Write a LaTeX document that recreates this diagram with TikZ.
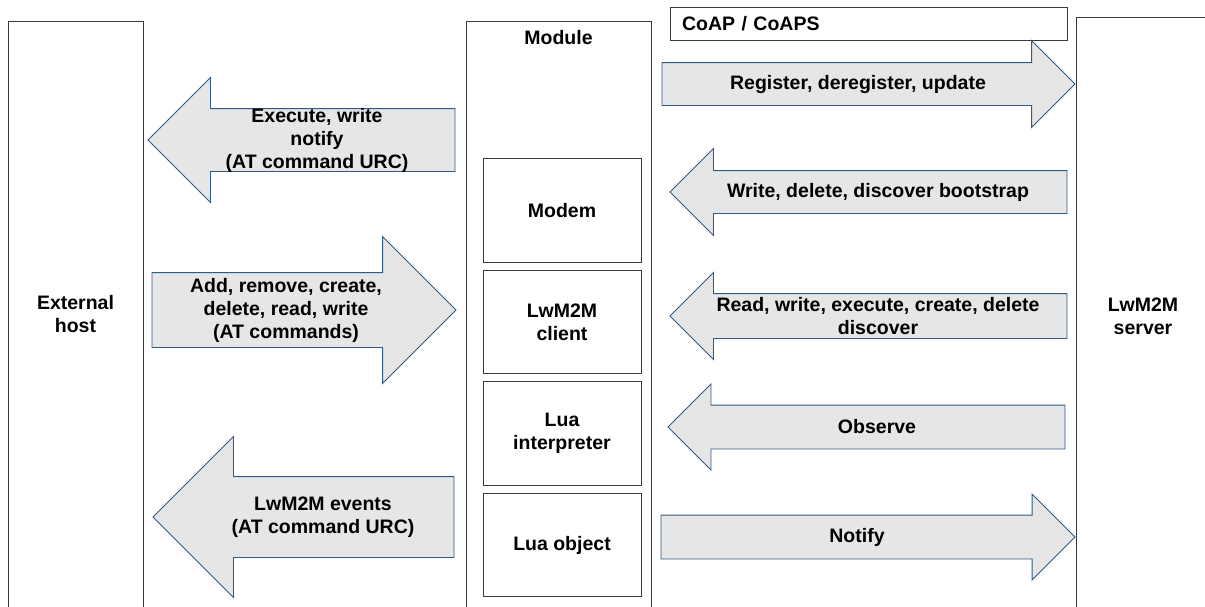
\documentclass[tikz,border=0pt]{standalone}
\usepackage{fontspec}
\setmainfont{Liberation Sans}
\usetikzlibrary{shapes.arrows}

\begin{document}
\begin{tikzpicture}[x=1pt,y=-1pt,
  every node/.style={font={\fontsize{19.5}{23}\selectfont\bfseries}},
  box/.style={rectangle,draw=boxline,line width=1pt,inner sep=0pt,outer sep=0pt,align=center},
  blockarrow/.style={single arrow,draw=arrowline,fill=arrowfill,line width=0.9pt,
    inner xsep=0pt,outer sep=0pt,single arrow tip angle=90},
  lbl/.style={align=center,inner sep=0pt}]
\definecolor{boxline}{HTML}{3A3A3A}
\definecolor{arrowline}{HTML}{2F5B8A}
\definecolor{arrowfill}{HTML}{E6E6E6}
\useasboundingbox (0,0) rectangle (1205,606);
\clip (0,0) rectangle (1205,606);
% the three columns
\node [box,minimum width=135pt,minimum height=586pt] (host) at (75.5,314) {External\\host};
\node [box,minimum width=185pt,minimum height=586pt] (module) at (558.5,314) {};
\node [lbl] (modlbl) at (558.5,38) {Module};
\node [box,minimum width=134pt,minimum height=598pt] (server) at (1143,316) {LwM2M\\server};
% blocks inside the module
\foreach \name/\y/\txt in {modem/210.5/Modem,client/322/{LwM2M\\client},interp/433.5/{Lua\\interpreter},luaobj/545/{Lua object}}
  {  \node [box,minimum width=158pt,minimum height=103.5pt] (\name) at (562,\y) {\txt};}
\node [box,minimum width=397pt,minimum height=33pt,text width=373pt,align=left,inner xsep=12pt] (coap) at (868.5,23.5) {CoAP / CoAPS};
% block arrows: tip, length, shaft, head extend, direction
\foreach \name/\x/\y/\len/\shaft/\ext/\rot in {reg/1075/84/413/21/22/0,wrt/670/192/397/21/22/180,rd/670/316/397/22/21/180,obs/668/427/397/21.5/21/180,ntf/1075/537/414/21.5/21/0,exe/148/140/307/31/31/180,add/456/310/304/37/36/0,evt/153/517/301/40/40/180}
  {  \node [blockarrow,anchor=tip,minimum height=\len pt,inner ysep=\shaft pt,single arrow head extend=\ext pt,shape border rotate=\rot] (\name) at (\x,\y) {};}
\foreach \name/\x/\y/\txt in {regtxt/858/84/{Register, deregister, update},wrttxt/878/192/{Write, delete, discover bootstrap},rdtxt/878/316/{Read, write, execute, create, delete\\discover},obstxt/877/427/Observe,ntftxt/857/537/Notify,exetxt/317/140/{Execute, write\\notify\\(AT command URC)},addtxt/286/310/{Add, remove, create,\\delete, read, write\\(AT commands)},evttxt/323/517/{LwM2M events\\(AT command URC)}}
  {  \node [lbl] (\name) at (\x,\y) {\txt};}
\end{tikzpicture}
\end{document}
